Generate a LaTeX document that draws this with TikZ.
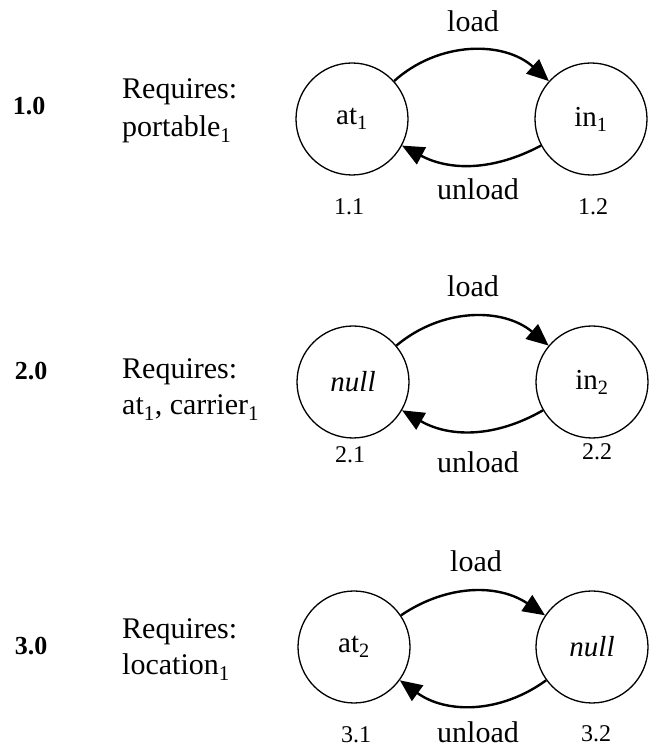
\documentclass[tikz,border=0pt]{standalone}
\usepackage{fontspec}
\setmainfont{Liberation Serif}
\usetikzlibrary{arrows.meta}

\tikzset{
  state/.style={circle, draw, line width=1.3pt, minimum size=112pt, inner sep=0pt,
    font=\fontsize{29}{34}\selectfont},
  move/.style={line width=2.4pt, -{Triangle[length=22pt,width=19pt]}},
  word/.style={anchor=base, font=\fontsize{30}{36}\selectfont, inner sep=0pt},
  reqtext/.style={anchor=base west, font=\fontsize{30}{36}\selectfont, inner sep=0pt},
  tag/.style={anchor=base, font=\fontsize{24}{28}\selectfont, inner sep=0pt},
  level/.style={anchor=base, font=\fontsize{26}{30}\selectfont\bfseries, inner sep=0pt}
}

\begin{document}
\begin{tikzpicture}[x=1pt, y=1pt]

    \useasboundingbox (0, 0) rectangle (648, 749);

    % Ebene 1.0
    \node[level] (lvlOne) at (29, 634) {1.0};
    \node[reqtext] (reqOneA) at (122, 650) {Requires:};
    \node[reqtext] (reqOneB) at (122, 612) {portable\textsubscript{1}};

    \node[state] (atOne) at (352, 630) {at\textsubscript{1}};
    \node[state] (inOne) at (591, 630) {in\textsubscript{1}};

    \draw[move] (atOne) to[bend left=42] (inOne);
    \draw[move] (inOne) to[bend left=28] (atOne);

    \node[word] (loadOne) at (473, 717) {load};
    \node[word] (unloadOne) at (478, 549) {unload};
    \node[tag] (tagOneA) at (349, 534) {1.1};
    \node[tag] (tagOneB) at (593, 534) {1.2};

    % Ebene 2.0
    \node[level] (lvlTwo) at (31, 369) {2.0};
    \node[reqtext] (reqTwoA) at (122, 370) {Requires:};
    \node[reqtext] (reqTwoB) at (122, 334) {at\textsubscript{1}, carrier\textsubscript{1}};

    \node[state] (nullTwo) at (353, 367) {\textit{null}};
    \node[state] (inTwo) at (592, 367) {in\textsubscript{2}};

    \draw[move] (nullTwo) to[bend left=40] (inTwo);
    \draw[move] (inTwo) to[bend left=30] (nullTwo);

    \node[word] (loadTwo) at (473, 452) {load};
    \node[word] (unloadTwo) at (478, 276) {unload};
    \node[tag] (tagTwoA) at (350, 286) {2.1};
    \node[tag] (tagTwoB) at (597, 289) {2.2};

    % Ebene 3.0
    \node[level] (lvlThree) at (31, 94) {3.0};
    \node[reqtext] (reqThreeA) at (122, 110) {Requires:};
    \node[reqtext] (reqThreeB) at (122, 74) {location\textsubscript{1}};

    \node[state] (atThree) at (354, 102) {at\textsubscript{2}};
    \node[state] (nullThree) at (592, 102) {\textit{null}};

    \draw[move] (atThree) to[bend left=34] (nullThree);
    \draw[move] (nullThree) to[bend left=36] (atThree);

    \node[word] (loadThree) at (476, 177) {load};
    \node[word] (unloadThree) at (478, 6) {unload};
    \node[tag] (tagThreeA) at (356, 6) {3.1};
    \node[tag] (tagThreeB) at (596, 8) {3.2};

\end{tikzpicture}
\end{document}
